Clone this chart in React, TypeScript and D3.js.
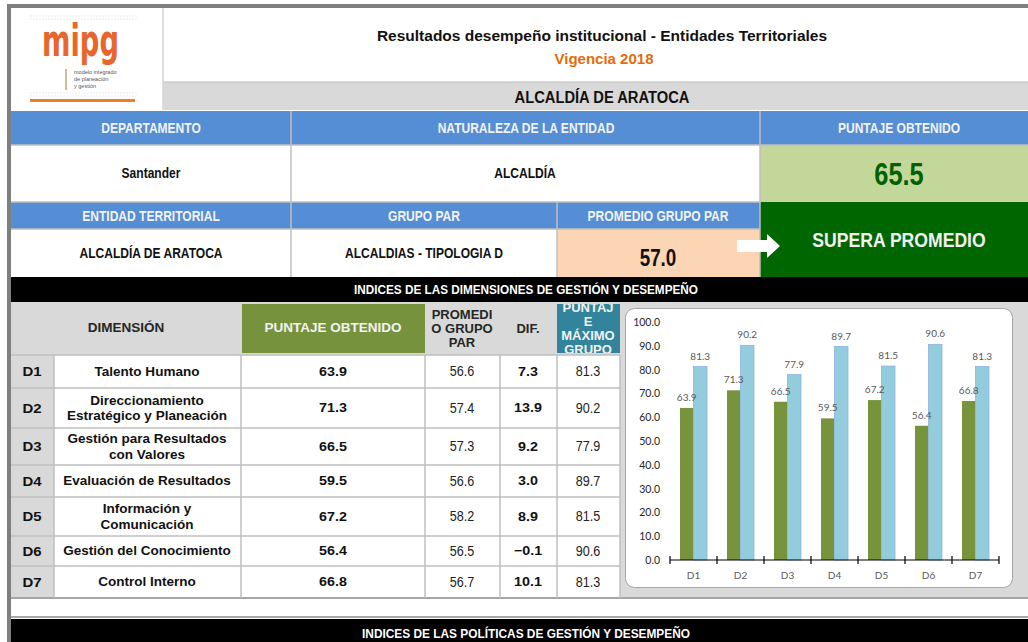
import React from "react";
import * as d3 from "d3";

const dims = ["D1", "D2", "D3", "D4", "D5", "D6", "D7"];
const dimNames = [
  ["Talento Humano"],
  ["Direccionamiento", "Estratégico y Planeación"],
  ["Gestión para Resultados", "con Valores"],
  ["Evaluación de Resultados"],
  ["Información y", "Comunicación"],
  ["Gestión del Conocimiento"],
  ["Control Interno"],
];
const puntaje = [63.9, 71.3, 66.5, 59.5, 67.2, 56.4, 66.8];
const promedio = [56.6, 57.4, 57.3, 56.6, 58.2, 56.5, 56.7];
const dif = [7.3, 13.9, 9.2, 3.0, 8.9, -0.1, 10.1];
const maximo = [81.3, 90.2, 77.9, 89.7, 81.5, 90.6, 81.3];
const yTicks = [0, 10, 20, 30, 40, 50, 60, 70, 80, 90, 100];
const seriesKeys = ["obtenido", "maximo"];

const ARIAL = "'Liberation Sans', Arial, sans-serif";
const CAL = "Lato, 'Open Sans', sans-serif";

const BLUE = "#558ED5";
const GRAY = "#D9D9D9";
const LINE = "#BFBFBF";

const rowBounds = [355, 388, 428, 465, 497, 536, 566, 598];
const cols = [11, 54, 241, 425, 500, 557, 620];

export default function App() {
  const x0 = d3.scaleBand<string>().domain(dims).range([670, 999]).paddingInner(0).paddingOuter(0);
  const x1 = d3.scaleBand<string>().domain(seriesKeys).range([0, x0.bandwidth()]).paddingInner(0).paddingOuter(0.74);
  const y = d3.scaleLinear().domain([0, 100]).range([560, 322]);
  const fmt = d3.format(".1f");
  const series = [puntaje, maximo];
  const barColors = ["#77933C", "#93CDDD"];

  const txt = (x: number, yy: number, s: string, o: any = {}) => {
    const { sx = 0.86, ...rest } = o;
    return (
      <text
        transform={`translate(${x},${yy}) scale(${sx},1)`}
        x={0}
        y={0}
        textAnchor="middle"
        dominantBaseline="central"
        fontFamily={ARIAL}
        fontWeight="bold"
        fontSize={14}
        fill="#111"
        {...rest}
      >
        {s}
      </text>
    );
  };
  const T = { fontSize: 13, sx: 1.04 };

  return (
    <svg width={1028} height={642} style={{ position: "absolute", left: 0, top: 0, display: "block", background: "#fff" }}>
      {/* outer frame */}
      <rect x={0} y={0} width={1028} height={642} fill="#fff" />
      <rect x={7} y={4} width={1021} height={4} fill="#7F7F7F" />
      <rect x={7} y={4} width={4} height={638} fill="#7F7F7F" />

      {/* logo */}
      <rect x={11} y={8} width={152} height={102} fill="#fff" />
      <line x1={163} y1={8} x2={163} y2={110} stroke={LINE} />
      {d3.range(0, 36).map((i) => (
        <g key={"dot" + i}>
          <circle cx={31 + i * 3} cy={16} r={0.7} fill="#E4E4E4" />
          <circle cx={31 + i * 3} cy={19} r={0.7} fill="#E4E4E4" />
          <circle cx={31 + i * 3} cy={93} r={0.7} fill="#E4E4E4" />
          <circle cx={31 + i * 3} cy={96} r={0.7} fill="#E4E4E4" />
        </g>
      ))}
      <text x={42} y={56} fontFamily="'DejaVu Sans', sans-serif" fontWeight="bold" fontSize={44} fill="#E8662C" textLength={77} lengthAdjust="spacingAndGlyphs">
        mipg
      </text>
      <rect x={65} y={69} width={2} height={21} fill="#D8B896" />
      <text x={74} y={74} fontFamily={ARIAL} fontSize={5.5} fill="#555">modelo integrado</text>
      <text x={74} y={81} fontFamily={ARIAL} fontSize={5.5} fill="#555">de planeación</text>
      <text x={74} y={88} fontFamily={ARIAL} fontSize={5.5} fill="#555">y gestión</text>
      <rect x={30} y={99} width={105} height={3} fill="#F07F22" />

      {/* title */}
      <text x={602} y={35} textAnchor="middle" dominantBaseline="central" fontFamily={ARIAL} fontWeight="bold" fontSize={15.5} fill="#111">
        Resultados desempeño institucional - Entidades Territoriales
      </text>
      <text x={604} y={58} textAnchor="middle" dominantBaseline="central" fontFamily={ARIAL} fontWeight="bold" fontSize={15} fill="#E46C0A">
        Vigencia 2018
      </text>

      {/* entity band */}
      <rect x={163} y={82} width={865} height={28} fill={GRAY} />
      <line x1={163} y1={82} x2={1028} y2={82} stroke={LINE} />
      {txt(602, 97, "ALCALDÍA DE ARATOCA", { fontSize: 16, sx: 0.92 })}

      {/* info block */}
      <rect x={11} y={111} width={1017} height={34} fill={BLUE} />
      <rect x={11} y={202} width={749} height={27} fill={BLUE} />
      <rect x={760} y={145} width={268} height={57} fill="#C4D79B" />
      <rect x={760} y={202} width={268} height={75} fill="#006600" />
      <rect x={557} y={229} width={203} height={48} fill="#FCD5B4" />
      {[145, 202, 229].map((yy) => (
        <line key={"h" + yy} x1={11} y1={yy} x2={760} y2={yy} stroke={LINE} strokeWidth={1.5} />
      ))}
      <line x1={760} y1={145} x2={1028} y2={145} stroke={LINE} strokeWidth={1.5} />
      <line x1={291} y1={111} x2={291} y2={277} stroke={LINE} strokeWidth={1.5} />
      <line x1={760} y1={111} x2={760} y2={277} stroke={LINE} strokeWidth={1.5} />
      <line x1={557} y1={202} x2={557} y2={277} stroke={LINE} strokeWidth={1.5} />

      {txt(151, 128, "DEPARTAMENTO", { fill: "#F2F2F2" })}
      {txt(526, 128, "NATURALEZA DE LA ENTIDAD", { fill: "#F2F2F2" })}
      {txt(899, 128, "PUNTAJE OBTENIDO", { fill: "#F2F2F2" })}
      {txt(151, 173, "Santander")}
      {txt(525, 173, "ALCALDÍA")}
      {txt(899, 174, "65.5", { fontSize: 31, sx: 0.82, fill: "#006100" })}
      {txt(151, 216, "ENTIDAD TERRITORIAL", { fill: "#F2F2F2" })}
      {txt(424, 216, "GRUPO PAR", { fill: "#F2F2F2" })}
      {txt(658, 216, "PROMEDIO GRUPO PAR", { fill: "#F2F2F2" })}
      {txt(151, 253, "ALCALDÍA DE ARATOCA")}
      {txt(424, 253, "ALCALDIAS - TIPOLOGIA D")}
      {txt(658, 258, "57.0", { fontSize: 23, sx: 0.82 })}
      {txt(899, 240, "SUPERA PROMEDIO", { fontSize: 20, sx: 0.88, fill: "#F2F2F2" })}
      <path d="M737,240 L767,240 L767,234 L780,246 L767,258 L767,252 L737,252 Z" fill="#fff" />

      {/* black band */}
      <rect x={11} y={277} width={1017} height={25} fill="#000" />
      {txt(526, 290, "INDICES DE LAS DIMENSIONES DE GESTIÓN Y DESEMPEÑO", { fill: "#fff", fontSize: 13.5, sx: 0.87 })}

      {/* table header */}
      <rect x={11} y={302} width={1017} height={296} fill={GRAY} />
      <rect x={242} y={304} width={183} height={49} fill="#76923C" />
      <rect x={557} y={304} width={63} height={49} fill="#31849B" />
      {txt(126, 328, "DIMENSIÓN", { ...T, fill: "#262626" })}
      {txt(333, 328, "PUNTAJE OBTENIDO", { ...T, fill: "#F2F2F2" })}
      {txt(462, 315, "PROMEDI", { ...T, fontSize: 12.5, fill: "#262626" })}
      {txt(462, 329, "O GRUPO", { ...T, fontSize: 12.5, fill: "#262626" })}
      {txt(462, 343, "PAR", { ...T, fontSize: 12.5, fill: "#262626" })}
      {txt(528, 329, "DIF.", { ...T, fontSize: 12.5, fill: "#262626" })}
      <clipPath id="tealclip">
        <rect x={557} y={304} width={63} height={49} />
      </clipPath>
      <g clipPath="url(#tealclip)">
        {["PUNTAJ", "E", "MÁXIMO", "GRUPO"].map((s, i) => (
          <g key={s}>{txt(588, 308 + i * 14, s, { ...T, fontSize: 12.5, fill: "#F2F2F2" })}</g>
        ))}
      </g>

      {/* table rows */}
      <rect x={54} y={355} width={566} height={243} fill="#fff" />
      {dims.map((d, i) => {
        const y0 = rowBounds[i];
        const y1b = rowBounds[i + 1];
        const cy = (y0 + y1b) / 2;
        const names = dimNames[i];
        return (
          <g key={d}>
            <line x1={11} y1={y0} x2={620} y2={y0} stroke={LINE} strokeWidth={1.5} />
            {txt(32, cy, d, { fontSize: 13, sx: 1.15 })}
            {names.map((n, j) => (
              <g key={n}>{txt(147, cy + (j - (names.length - 1) / 2) * 15.5, n, T)}</g>
            ))}
            {txt(333, cy, fmt(puntaje[i]), { fontSize: 13, sx: 1.1 })}
            {txt(462, cy, fmt(promedio[i]), { fontSize: 14, sx: 0.9, fontWeight: "normal", fill: "#222" })}
            {txt(528, cy, fmt(dif[i]), { fontSize: 13, sx: 1.1 })}
            {txt(588, cy, fmt(maximo[i]), { fontSize: 14, sx: 0.9, fontWeight: "normal", fill: "#222" })}
          </g>
        );
      })}
      <line x1={11} y1={598} x2={1028} y2={598} stroke="#A6A6A6" strokeWidth={2} />
      {cols.slice(1).map((cx) => (
        <line key={"c" + cx} x1={cx} y1={355} x2={cx} y2={598} stroke={LINE} strokeWidth={1.5} />
      ))}

      {/* chart */}
      <rect x={625.5} y={308.5} width={387} height={279} rx={9} fill="#fff" stroke="#A6A6A6" />
      {yTicks.map((t) => (
        <text key={"yt" + t} x={660} y={y(t)} textAnchor="end" dominantBaseline="central" fontFamily={CAL} fontSize={10.5} fill="#262626">
          {fmt(t)}
        </text>
      ))}
      {dims.map((d, i) => (
        <g key={"bars" + d} transform={`translate(${x0(d)},0)`}>
          {seriesKeys.map((k, s) => {
            const v = series[s][i];
            const bx = x1(k) as number;
            return (
              <rect key={k} x={bx} y={y(v)} width={x1.bandwidth()} height={y(0) - y(v)} fill={barColors[s]} stroke={s === 1 ? "#8DB4E2" : "none"} strokeWidth={0.8} />
            );
          })}
        </g>
      ))}
      {dims.map((d, i) => (
        <g key={"labels" + d} transform={`translate(${x0(d)},0)`}>
          {seriesKeys.map((k, s) => {
            const v = series[s][i];
            const bx = x1(k) as number;
            return (
              <text key={k} x={bx + x1.bandwidth() / 2} y={y(v) - 11} textAnchor="middle" dominantBaseline="central" fontFamily={CAL} fontSize={10} fill="#595959">
                {fmt(v)}
              </text>
            );
          })}
        </g>
      ))}
      <line x1={670} y1={560} x2={999} y2={560} stroke="#000" strokeWidth={1.2} />
      {[...dims.map((d) => x0(d) as number), 999].map((tx) => (
        <line key={"tk" + tx} x1={tx} y1={556} x2={tx} y2={564} stroke="#000" strokeWidth={1.2} />
      ))}
      {dims.map((d) => (
        <text key={"xl" + d} x={(x0(d) as number) + x0.bandwidth() / 2} y={575} textAnchor="middle" dominantBaseline="central" fontFamily={CAL} fontSize={10} fill="#595959">
          {d}
        </text>
      ))}

      {/* bottom */}
      <rect x={11} y={599} width={1017} height={18} fill="#fff" />
      <line x1={11} y1={617} x2={1028} y2={617} stroke="#A6A6A6" strokeWidth={2} />
      <rect x={11} y={619} width={1017} height={23} fill="#000" />
      {txt(526, 633, "INDICES DE LAS POLÍTICAS DE GESTIÓN Y DESEMPEÑO", { fill: "#fff", fontSize: 13.5, sx: 0.88 })}
    </svg>
  );
}
